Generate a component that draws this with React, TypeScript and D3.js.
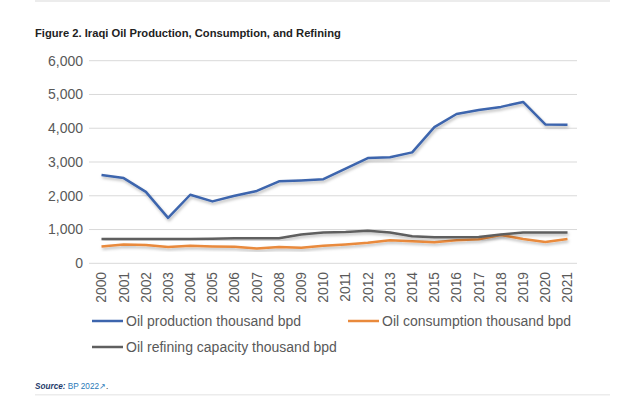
import * as d3 from "d3";
import { useEffect, useRef } from "react";

const YEARS = [
  2000, 2001, 2002, 2003, 2004, 2005, 2006, 2007, 2008, 2009, 2010, 2011, 2012, 2013, 2014, 2015,
  2016, 2017, 2018, 2019, 2020, 2021,
];
const PRODUCTION = [
  2614, 2523, 2116, 1344, 2030, 1833, 1999, 2143, 2428, 2452, 2490, 2801, 3116, 3141, 3285, 4031,
  4423, 4538, 4632, 4779, 4114, 4102,
];
const CONSUMPTION = [
  500, 560, 540, 480, 520, 500, 490, 440, 480, 460, 520, 560, 610, 680, 650, 620, 680, 710, 840,
  720, 630, 720,
];
const REFINING = [
  720, 720, 720, 720, 720, 730, 740, 740, 740, 850, 910, 930, 965, 910, 800, 770, 770, 780, 850,
  910, 915, 915,
];
const Y_TICKS = [0, 1000, 2000, 3000, 4000, 5000, 6000];

const SERIES = [
  { key: "Oil production thousand bpd", values: PRODUCTION, color: "#3d65ad" },
  { key: "Oil consumption thousand bpd", values: CONSUMPTION, color: "#e98a3c" },
  { key: "Oil refining capacity thousand bpd", values: REFINING, color: "#5f5f5f" },
];

const W = 640;
const H = 403;
const FONT = "Arial, 'Liberation Sans', sans-serif";

export default function App() {
  const svgRef = useRef<SVGSVGElement>(null);

  useEffect(() => {
    const svg = d3.select(svgRef.current);
    svg.selectAll("*").remove();
    svg.attr("width", W).attr("height", H);

    const x = d3.scalePoint<number>().domain(YEARS).range([101.5, 567.5]);
    const y = d3.scaleLinear().domain([0, 6000]).range([263.3, 60.7]);

    const defs = svg.append("defs");
    const f = defs
      .append("filter")
      .attr("id", "shadow")
      .attr("x", "-10%")
      .attr("y", "-10%")
      .attr("width", "120%")
      .attr("height", "130%");
    f.append("feDropShadow")
      .attr("dx", 1)
      .attr("dy", 2)
      .attr("stdDeviation", 1.6)
      .attr("flood-color", "#000")
      .attr("flood-opacity", 0.28);

    svg.append("rect").attr("width", W).attr("height", H).attr("fill", "#ffffff");
    // faint frame lines above and below the figure
    svg.append("rect").attr("x", 35).attr("y", 0).attr("width", 575).attr("height", 2).attr("fill", "#ececec");
    svg.append("rect").attr("x", 35).attr("y", 394).attr("width", 575).attr("height", 1.5).attr("fill", "#ececec");

    svg
      .append("text")
      .attr("x", 35)
      .attr("y", 37)
      .attr("font-family", FONT)
      .attr("font-weight", "bold")
      .attr("font-size", 11.2)
      .attr("fill", "#222")
      .text("Figure 2. Iraqi Oil Production, Consumption, and Refining");

    const g = svg.append("g");

    g.selectAll("line.grid")
      .data(Y_TICKS)
      .join("line")
      .attr("x1", 89)
      .attr("x2", 577)
      .attr("y1", (d) => y(d))
      .attr("y2", (d) => y(d))
      .attr("stroke", "#d9d9d9")
      .attr("stroke-width", 1);

    g.selectAll("text.ytick")
      .data(Y_TICKS)
      .join("text")
      .attr("x", 83)
      .attr("y", (d) => y(d))
      .attr("dy", "0.35em")
      .attr("text-anchor", "end")
      .attr("font-family", FONT)
      .attr("font-size", 14)
      .attr("fill", "#595959")
      .text((d) => d3.format(",")(d));

    g.selectAll("text.xtick")
      .data(YEARS)
      .join("text")
      .attr("transform", (d) => `translate(${x(d)!},${272}) rotate(-90)`)
      .attr("text-anchor", "end")
      .attr("dy", "0.35em")
      .attr("font-family", FONT)
      .attr("font-size", 13.8)
      .attr("fill", "#595959")
      .text((d) => String(d));

    const line = d3
      .line<number>()
      .x((_, i) => x(YEARS[i])!)
      .y((d) => y(d));

    [SERIES[1], SERIES[2], SERIES[0]].forEach((s) => {
      g.append("path")
        .datum(s.values)
        .attr("fill", "none")
        .attr("stroke", s.color)
        .attr("stroke-width", 2.5)
        .attr("stroke-linejoin", "round")
        .attr("filter", "url(#shadow)")
        .attr("d", line);
    });

    const legendPos = [
      { x: 92, y: 321 },
      { x: 348, y: 321 },
      { x: 92, y: 347 },
    ];
    SERIES.forEach((s, i) => {
      const p = legendPos[i];
      svg
        .append("line")
        .attr("x1", p.x)
        .attr("x2", p.x + 31)
        .attr("y1", p.y)
        .attr("y2", p.y)
        .attr("stroke", s.color)
        .attr("stroke-width", 2.5);
      svg
        .append("text")
        .attr("x", p.x + 34)
        .attr("y", p.y)
        .attr("dy", "0.35em")
        .attr("font-family", FONT)
        .attr("font-size", 14)
        .attr("fill", "#595959")
        .text(s.key);
    });

    const src = svg
      .append("text")
      .attr("x", 35)
      .attr("y", 388.5)
      .attr("font-family", FONT)
      .attr("font-size", 8.2);
    src.append("tspan").attr("font-weight", "bold").attr("font-style", "italic").attr("fill", "#1f3b6b").text("Source: ");
    src.append("tspan").attr("fill", "#2a7ab8").text("BP 2022");
    src.append("tspan").attr("fill", "#2a7ab8").text("\u2197");
    src.append("tspan").attr("fill", "#333").text(".");
  }, []);

  return (
    <div style={{ position: "absolute", left: 0, top: 0, width: W, height: H }}>
      <svg ref={svgRef} style={{ display: "block" }} />
    </div>
  );
}
